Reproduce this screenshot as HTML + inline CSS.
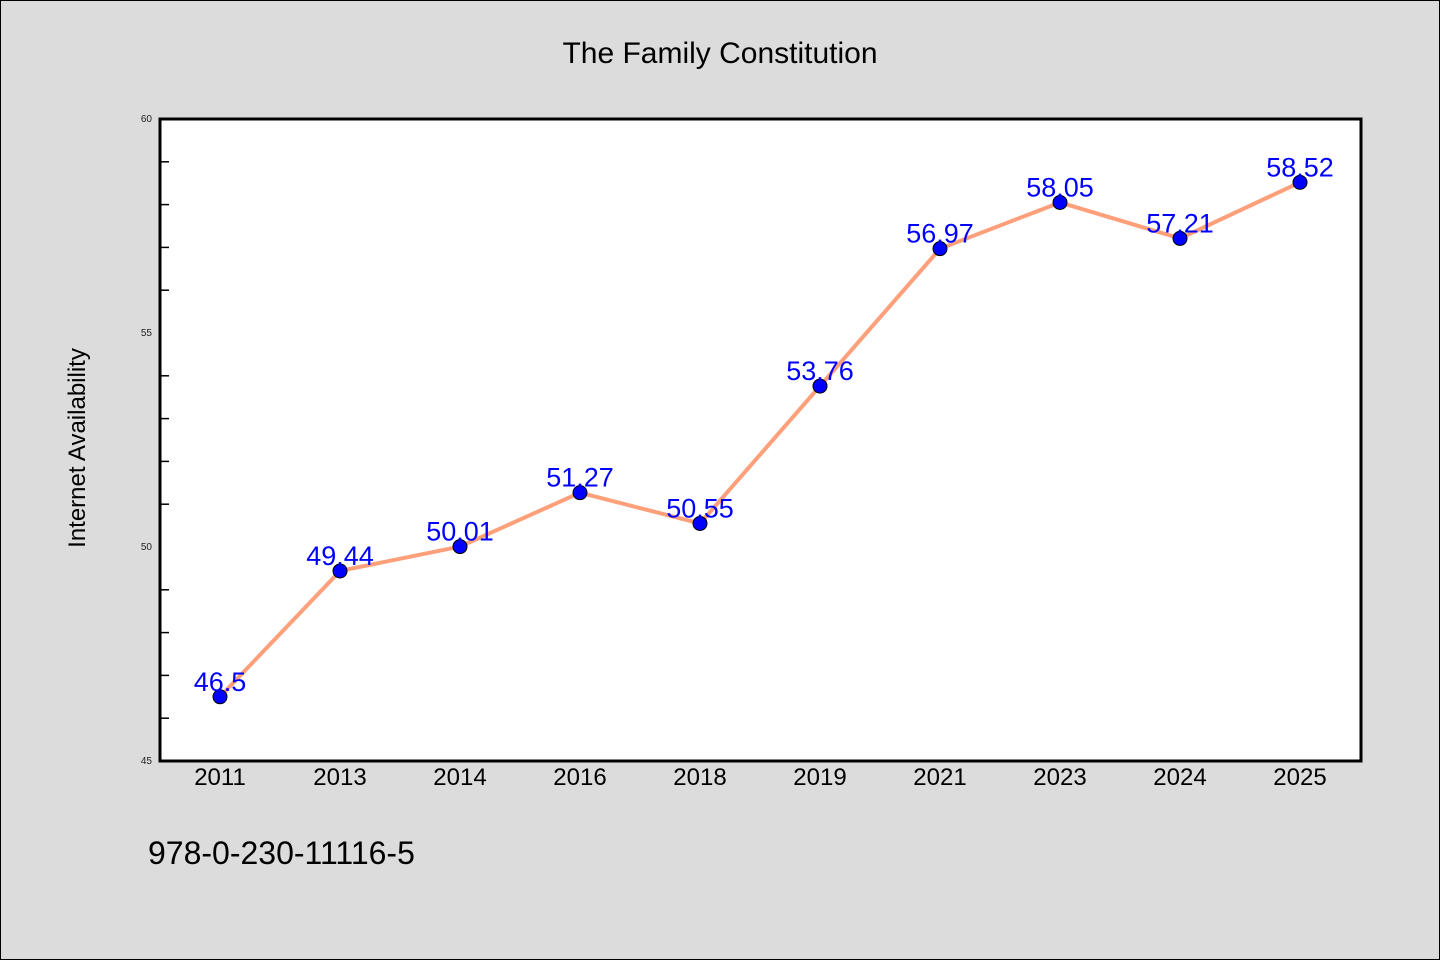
<!DOCTYPE html>
<html><head><meta charset="utf-8"><style>
body{margin:0;background:#dcdcdc;}
svg{display:block;font-family:"WenQuanYi Zen Hei","Liberation Sans",sans-serif;}
</style></head><body>
<svg id="chart" width="1440" height="960">
<rect x="0.5" y="0.5" width="1439" height="959" fill="#dcdcdc" stroke="#000"/>
<text x="720" y="63" text-anchor="middle" font-size="30" fill="#000">The Family Constitution</text>
<rect x="160" y="119" width="1201" height="642" fill="#fff"/>
<g id="axes"></g>
<g id="series"></g>
<rect x="160" y="119" width="1201" height="642" fill="none" stroke="#000" stroke-width="3"/>
<text x="85" y="448" text-anchor="middle" font-size="24" transform="rotate(-90 85 448)">Internet Availability</text>
<text x="148" y="864" font-size="32">978-0-230-11116-5</text>
</svg>
<script>
const categories=["2011","2013","2014","2016","2018","2019","2021","2023","2024","2025"];
const values=[46.5,49.44,50.01,51.27,50.55,53.76,56.97,58.05,57.21,58.52];
const labels=["46.5","49.44","50.01","51.27","50.55","53.76","56.97","58.05","57.21","58.52"];
const yTicks=[45,50,55,60];
const ns="http://www.w3.org/2000/svg";
const L=160,T=119,W=1200,H=642,ymin=45,ymax=60;
const x=i=>L+W/categories.length*(i+0.5);
const y=v=>T+H*(ymax-v)/(ymax-ymin);
function mk(t,a,p){const e=document.createElementNS(ns,t);for(const k in a)e.setAttribute(k,a[k]);p.appendChild(e);return e;}
const ax=document.getElementById('axes'),se=document.getElementById('series');
for(let v=ymin;v<=ymax;v++){
 const major=yTicks.includes(v);
 if(!major){const t=mk('line',{x1:L,x2:L+9,y1:y(v),y2:y(v),stroke:'#000','stroke-width':1.5},ax);
 
 }
}
yTicks.forEach(v=>{const t=mk('text',{x:L-8,y:y(v)+3,'text-anchor':'end','font-size':10,fill:'#222'},ax);t.textContent=v;

});
categories.forEach((c,i)=>{const t=mk('text',{x:x(i),y:785,'text-anchor':'middle','font-size':24},ax);t.textContent=c;

});
const pl=mk('polyline',{points:values.map((v,i)=>x(i)+','+y(v)).join(' '),fill:'none',stroke:'#ffa07a','stroke-width':4,'stroke-linejoin':'round'},se);


values.forEach((v,i)=>{const c=mk('circle',{cx:x(i),cy:y(v),r:7,fill:'#0000ff',stroke:'#000','stroke-width':1},se);


const t=mk('text',{x:x(i),y:y(v)-6,'text-anchor':'middle','font-size':27,fill:'#0000ff'},se);t.textContent=labels[i];

});
</script>
</body></html>
